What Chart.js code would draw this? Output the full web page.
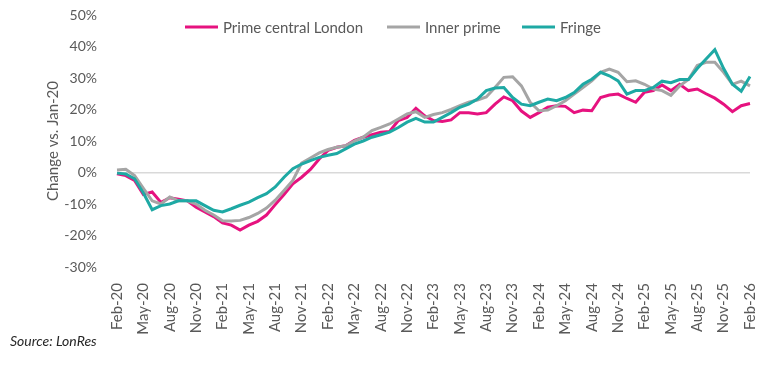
<!DOCTYPE html>
<html>
<head>
<meta charset="utf-8">
<script src="https://cdn.jsdelivr.net/npm/chart.js@4.4.0/dist/chart.umd.min.js"></script>
<style>
  html, body { margin: 0; padding: 0; background: #fff; }
  #wrap { width: 780px; height: 371px; }
</style>
</head>
<body>
<div id="wrap"><canvas id="chart" width="780" height="371"></canvas></div>
<script>
// Monthly categories Feb-20 .. Feb-26
const monthNames = ['Jan', 'Feb', 'Mar', 'Apr', 'May', 'Jun', 'Jul', 'Aug', 'Sep', 'Oct', 'Nov', 'Dec'];
const firstYear = 20, firstMonth = 1, monthCount = 73;
const categories = [];
for (let i = 0; i < monthCount; i++) {
    const m = (firstMonth + i) % 12;
    const y = firstYear + Math.floor((firstMonth + i) / 12);
    categories.push(monthNames[m] + '-' + y);
}

// Change vs. Jan-20 (%)
const primeCentral = [
    -0.4, -1, -2.5, -7, -6.2, -9.5, -8, -8.5, -9, -11, -12.5, -14,
    -16, -16.7, -18.3, -16.7, -15.5, -13.5, -10.2, -7, -3.6, -1.5, 1, 4.3,
    7, 8, 8.5, 10.2, 11.2, 12, 12.8, 13, 16.5, 17.5, 20.4, 18,
    16.5, 16.2, 16.7, 19, 19, 18.6, 19, 21.7, 24, 22.8, 19.5, 17.5,
    19, 20.7, 21.2, 21, 19, 19.8, 19.6, 23.8, 24.6, 24.9, 23.5, 22.3,
    25.5, 26, 27.8, 26, 28, 26, 26.5, 25, 23.6, 21.7, 19.3, 21.2,
    21.9
];
const innerPrime = [
    0.8, 1, -1, -5, -9, -10, -7.8, -9, -9, -10, -12, -13.5,
    -15.3, -15.4, -15.2, -14.3, -13, -11.3, -8.8, -5.7, -2.5, 3, 4.6, 6.2,
    7.3, 8, 8.5, 10, 11.2, 13.3, 14.3, 15.4, 17, 18.6, 19.3, 17.5,
    18.4, 19, 20, 21.2, 22.3, 23, 24, 27, 30.2, 30.4, 27.5, 22.3,
    19.6, 19.8, 21.2, 22.8, 24.9, 27, 29.1, 31.8, 32.8, 31.8, 28.8, 29.1,
    28, 26.5, 26, 24.5, 27.5, 29.5, 34, 35, 35, 31.8, 28, 29,
    27.5
];
const fringe = [
    -0.2, -0.5, -2, -6.5, -11.8, -10.5, -10, -9, -9, -9, -10.5, -12,
    -12.5, -11.5, -10.4, -9.4, -8, -6.7, -4.6, -1.5, 1.2, 2.7, 3.8, 4.8,
    5.5, 6, 7.5, 9, 10, 11.2, 12, 12.8, 14.3, 16, 17.2, 16,
    16, 17.5, 19, 20.7, 21.7, 23.3, 26, 26.8, 27, 23.8, 21.7, 21.2,
    22.3, 23.3, 22.8, 23.8, 25.4, 28, 29.6, 31.8, 30.7, 29.1, 24.9, 26,
    26, 27, 29, 28.5, 29.5, 29.5, 33, 36, 39, 33, 28, 25.8,
    30.5
];

const seriesNames = ['Prime central London', 'Inner prime', 'Fringe'];
const seriesColors = ['#E6127F', '#A5A5A5', '#1EA9A4'];
const yTicks = { min: -30, max: 50, step: 10 };

const FONT = 'Lato, "Open Sans", sans-serif';
const TEXT = '#595959';

// legend inside the plot + source note
const extras = {
    id: 'extras',
    afterDraw(chart) {
        const ctx = chart.ctx;
        ctx.save();
        ctx.font = '15px ' + FONT;
        ctx.textBaseline = 'middle';
        const starts = [185, 387, 522];
        seriesNames.forEach((name, i) => {
            const x = starts[i], y = 27;
            ctx.strokeStyle = seriesColors[i];
            ctx.lineWidth = 3;
            ctx.beginPath();
            ctx.moveTo(x, y);
            ctx.lineTo(x + 33, y);
            ctx.stroke();
            ctx.fillStyle = TEXT;
            ctx.fillText(name, x + 38, y + 1);
        });
        ctx.font = 'italic 14px ' + FONT;
        ctx.fillStyle = '#262626';
        ctx.fillText('Source: LonRes', 10, 341);
        ctx.restore();
    }
};

const ctx = document.getElementById('chart').getContext('2d');
new Chart(ctx, {
    type: 'line',
    data: {
        labels: categories,
        datasets: [primeCentral, innerPrime, fringe].map((d, i) => ({
            label: seriesNames[i],
            data: d,
            borderColor: seriesColors[i],
            backgroundColor: seriesColors[i],
            borderWidth: 3,
            pointRadius: 0,
            tension: 0,
            order: 3 - i
        }))
    },
    options: {
        responsive: false,
        animation: false,
        layout: { padding: { left: 44, right: 30, top: 15, bottom: 0 } },
        plugins: {
            legend: { display: false },
            tooltip: { enabled: false }
        },
        scales: {
            x: {
                offset: false,
                grid: { display: false },
                border: { display: false },
                afterFit: s => { s.height = 104; },
                ticks: {
                    autoSkip: false,
                    maxRotation: 90,
                    minRotation: 90,
                    padding: 8,
                    color: TEXT,
                    font: { family: FONT, size: 15 },
                    callback: (v, i) => i % 3 === 0 ? categories[i] : null
                }
            },
            y: {
                min: yTicks.min,
                max: yTicks.max,
                afterFit: s => { s.width = 73; },
                border: { display: false },
                grid: {
                    drawTicks: true,
                    tickLength: 16,
                    tickColor: 'transparent',
                    color: c => c.tick && c.tick.value === 0 ? '#D9D9D9' : 'transparent',
                    lineWidth: 1.5
                },
                ticks: {
                    stepSize: yTicks.step,
                    padding: 4,
                    color: TEXT,
                    font: { family: FONT, size: 14 },
                    callback: v => v + '%'
                },
                title: {
                    display: true,
                    text: 'Change vs. Jan-20',
                    color: TEXT,
                    font: { family: FONT, size: 15 },
                    padding: 0
                }
            }
        }
    },
    plugins: [extras]
});
</script>
</body>
</html>
